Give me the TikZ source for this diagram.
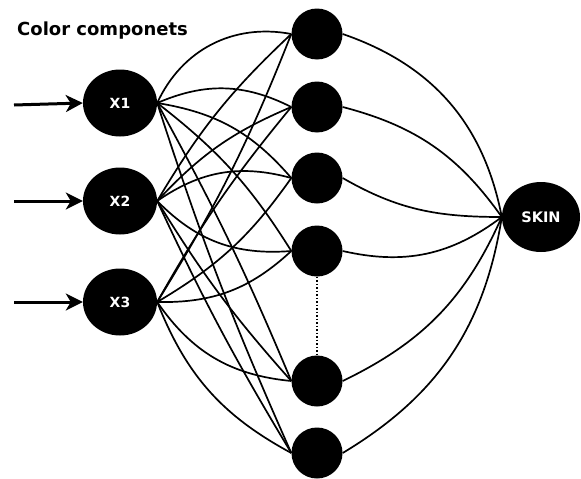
\documentclass[tikz,border=0pt]{standalone}
\usepackage{fontspec}
\setmainfont{DejaVu Sans}
\usetikzlibrary{arrows.meta,shapes.geometric}
\begin{document}
\begin{tikzpicture}[x=1pt,y=-1pt,
  inp/.style={ellipse,fill=black,minimum width=74pt,minimum height=67pt,inner sep=0pt,text=white,font=\bfseries\fontsize{14}{14}\selectfont},
  hid/.style={circle,fill=black,minimum size=51pt,inner sep=0pt},
  outn/.style={ellipse,fill=black,minimum width=78pt,minimum height=70pt,inner sep=0pt,text=white,font=\bfseries\fontsize{14.5}{15}\selectfont},
  wire/.style={line width=1.7pt},
  feed/.style={line width=3pt,-{Stealth[length=17pt,width=17pt,inset=5pt]}}]
\useasboundingbox (0,0) rectangle (581,479);
\node[font=\bfseries\fontsize{18}{18}\selectfont,anchor=base west,inner sep=0pt] (title) at (17,35) {Color componets};
\node[inp] (x1) at (120,103) {X1};
\node[inp] (x2) at (120,201) {X2};
\node[inp] (x3) at (120,302) {X3};
\node[hid] (h1) at (317,34) {};
\node[hid] (h2) at (317,107) {};
\node[hid] (h3) at (317,178) {};
\node[hid] (h4) at (317,251) {};
\node[hid] (h5) at (317,381) {};
\node[hid] (h6) at (317,453) {};
\node[outn] (skin) at (541,217) {SKIN};
\coordinate (a1) at (14,105);
\coordinate (a2) at (14,201);
\coordinate (a3) at (14,302);
\draw[feed] (a1) -- (x1.west);
\draw[feed] (a2) -- (x2.west);
\draw[feed] (a3) -- (x3.west);
% input to hidden
\draw[wire] (x1.east) to[bend left=38] (h1.west);
\draw[wire] (x1.east) to[bend left=25] (h2.west);
\draw[wire] (x1.east) to[bend left=20] (h3.west);
\draw[wire] (x1.east) to[bend left=10] (h4.west);
\draw[wire] (x1.east) to[bend left=3] (h5.west);
\draw[wire] (x1.east) to[bend right=3] (h6.west);
\draw[wire] (x2.east) to[bend left=8] (h1.west);
\draw[wire] (x2.east) to[bend left=12] (h2.west);
\draw[wire] (x2.east) to[bend left=25] (h3.west);
\draw[wire] (x2.east) to[bend right=25] (h4.west);
\draw[wire] (x2.east) to[bend right=5] (h5.west);
\draw[wire] (x2.east) to[bend right=3] (h6.west);
\draw[wire] (x3.east) to[bend right=5] (h1.west);
\draw[wire] (x3.east) to[bend left=5] (h2.west);
\draw[wire] (x3.east) to[bend right=12] (h3.west);
\draw[wire] (x3.east) to[bend right=22] (h4.west);
\draw[wire] (x3.east) to[bend right=25] (h5.west);
\draw[wire] (x3.east) to[bend right=20] (h6.west);
% hidden to output
\draw[wire] (h1.east) to[bend left=30] (skin.west);
\draw[wire] (h2.east) to[bend left=20] (skin.west);
\draw[wire] (h3.east) to[out=-30,in=180] (skin.west);
\draw[wire] (h4.east) to[bend right=25] (skin.west);
\draw[wire] (h5.east) to[bend right=20] (skin.west);
\draw[wire] (h6.east) to[bend right=25] (skin.west);
\draw[line width=1.5pt,dotted] (h4.south) -- (h5.north);
\end{tikzpicture}
\end{document}
